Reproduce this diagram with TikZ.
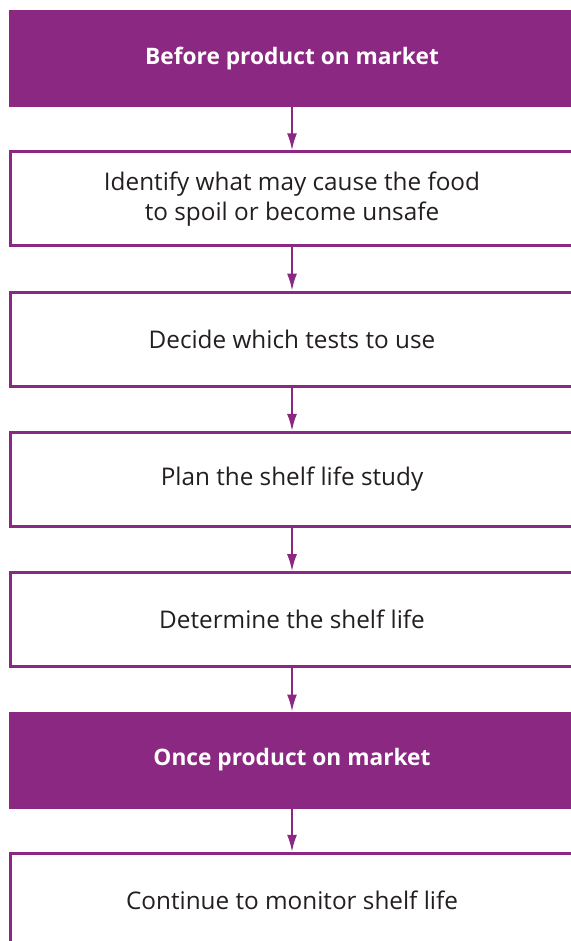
\documentclass[tikz,border=0pt]{standalone}
\usepackage{fontspec}
\setmainfont{Open Sans}
\usetikzlibrary{arrows.meta, positioning}
\definecolor{plum}{RGB}{139,41,130}
\definecolor{inkgrey}{RGB}{35,31,32}
\tikzset{
    headBox/.style={rectangle, draw=plum, fill=plum, line width=3pt, minimum width=564pt, minimum height=94pt, text=white, font=\fontsize{22.7}{28}\selectfont\bfseries},
    stepBox/.style={rectangle, draw=plum, fill=white, line width=3pt, minimum width=564pt, minimum height=94pt, text=inkgrey, align=center, font=\fontsize{24.3}{30}\selectfont},
    flowArrow/.style={-{Latex[length=17pt, width=10pt]}, draw=plum, line width=2pt},
}
\newcommand{\drawFlow}[2]{
    \draw[flowArrow] (#1.south) -- (#2.north);
}

\begin{document}
\begin{tikzpicture}[x=1pt, y=1pt, node distance=43.3pt]
    \useasboundingbox (0,0) rectangle (570,-941);
    \node[headBox] (before) at (292,-58.5) {Before product on market};
    \node[stepBox, below=of before] (identify) {Identify what may cause the food\\to spoil or become unsafe};
    \node[stepBox, below=of identify] (decide) {Decide which tests to use};
    \node[stepBox, below=of decide] (plan) {Plan the shelf life study};
    \node[stepBox, below=of plan] (determine) {Determine the shelf life};
    \node[headBox, below=of determine] (once) {Once product on market};
    \node[stepBox, below=of once] (monitor) {Continue to monitor shelf life};

    \drawFlow{before}{identify}
    \drawFlow{identify}{decide}
    \drawFlow{decide}{plan}
    \drawFlow{plan}{determine}
    \drawFlow{determine}{once}
    \drawFlow{once}{monitor}
\end{tikzpicture}
\end{document}
